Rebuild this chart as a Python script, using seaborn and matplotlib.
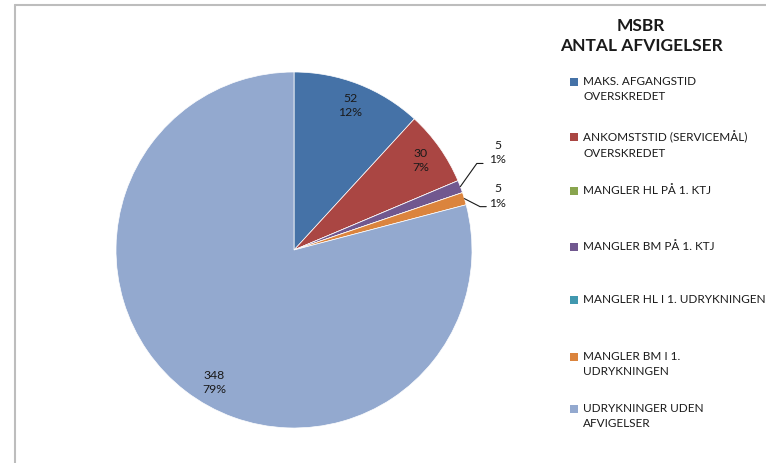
import numpy as np
import matplotlib
matplotlib.use("Agg")
import matplotlib.pyplot as plt
import seaborn as sns
from matplotlib.patches import Rectangle
from matplotlib.lines import Line2D

# --- data ---
categories = [
    "MAKS. AFGANGSTID\nOVERSKREDET",
    "ANKOMSTSTID (SERVICEMÅL)\nOVERSKREDET",
    "MANGLER HL PÅ 1. KTJ",
    "MANGLER BM PÅ 1. KTJ",
    "MANGLER HL I 1. UDRYKNINGEN",
    "MANGLER BM I 1.\nUDRYKNINGEN",
    "UDRYKNINGER UDEN\nAFVIGELSER",
]
values = [52, 30, 0, 5, 0, 5, 348]
colors = ["#4572A7", "#AA4643", "#89A54E", "#71588F", "#4198AF", "#DB843D", "#93A9CF"]
title = "MSBR\nANTAL AFVIGELSER"

sns.set_theme(style="white")
plt.rcParams['font.family'] = ['Lato', 'DejaVu Sans']
txt_color = "#1a1a1a"
fs = 8.8
fs_leg = 8.45

W, H = 766, 463
fig = plt.figure(figsize=(W / 100, H / 100), dpi=100)
fig.patch.set_facecolor("white")

# chart frame (cropped at right / bottom)
frame_col = "#BDBDBD"
fig.add_artist(Line2D([15 / W, 15 / W], [0, 1 - 5 / H], transform=fig.transFigure,
                      color=frame_col, lw=1.5))
fig.add_artist(Line2D([15 / W, 1], [1 - 5 / H, 1 - 5 / H], transform=fig.transFigure,
                      color=frame_col, lw=1.5))

# pie axes: centre (294, 250) px, radius 178 px
cx, cy, r = 294, 250, 178
ax = fig.add_axes([(cx - r) / W, (H - cy - r) / H, 2 * r / W, 2 * r / H])
pal = sns.color_palette(colors)
wedges, _ = ax.pie(values, colors=pal, startangle=90, counterclock=False,
                   wedgeprops=dict(edgecolor="white", linewidth=0.5))
ax.set_xlim(-1, 1)
ax.set_ylim(-1, 1)
ax.set_aspect("equal")
ax.axis("off")

# leader line elbows for the small slices (vertical shift from the wedge edge)
leader_dy = {3: 0.13, 5: -0.045}
leader_dx = {3: 1.027, 5: 1.045}

total = sum(values)
for i, (w, v) in enumerate(zip(wedges, values)):
    if v == 0:
        continue
    mid = np.deg2rad((w.theta1 + w.theta2) / 2)
    lab = f"{v}\n{round(100 * v / total):.0f}%"
    if i in leader_dy:
        ex, ey = np.cos(mid), np.sin(mid)
        lx, ly = leader_dx[i], ey + leader_dy[i]
        ax.plot([ex, lx, lx + 0.035], [ey, ly, ly], color=txt_color, lw=0.8,
                clip_on=False)
        ax.text(1.145, ly + 0.06, lab, ha="center", va="center", fontsize=fs,
                color=txt_color, linespacing=1.35)
    else:
        if v > 200:
            mid += np.deg2rad(6.7)
        ax.text(0.87 * np.cos(mid), 0.87 * np.sin(mid), lab, ha="center", va="center",
                fontsize=fs, color=txt_color, linespacing=1.35)

# title
fig.text(641 / W, 1 - 36 / H, title, ha="center", va="center", fontsize=12.5,
         fontweight="bold", color=txt_color, linespacing=1.25)

# legend
ys = [82, 137, 191, 247, 300, 357, 409]
for lab, col, y in zip(categories, colors, ys):
    fig.add_artist(Rectangle((570 / W, 1 - (y + 4) / H), 8 / W, 8 / H,
                             transform=fig.transFigure, facecolor=col, edgecolor="none"))
    fig.text(583 / W, 1 - (y - 6) / H, lab, ha="left", va="top", fontsize=fs_leg,
             color=txt_color, linespacing=1.45)

fig.savefig("out.png", dpi=100, facecolor="white")
